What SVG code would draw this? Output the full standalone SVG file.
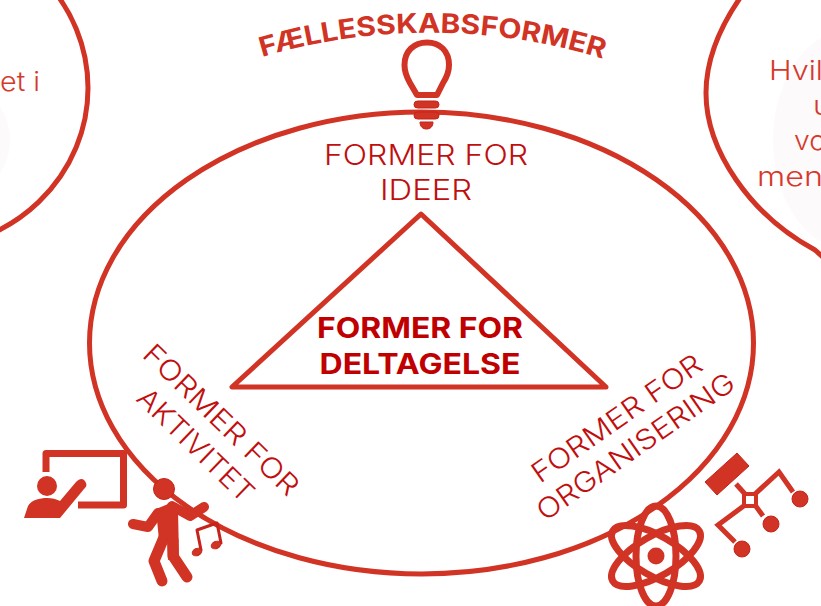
<svg xmlns="http://www.w3.org/2000/svg" width="821" height="606" viewBox="0 0 821 606">
<style>
.ln{fill:none;stroke:#d13324;stroke-width:5}
.ic{fill:#d13324;stroke:#c4241a;stroke-width:1}
.is{fill:none;stroke:#d13324;stroke-linecap:round;stroke-linejoin:round}
.t{font-family:Inter,"Noto Sans",Arial,sans-serif;font-size:28px;font-weight:300;fill:#bf0f0f}
.b{font-family:Inter,"Noto Sans",Arial,sans-serif;font-size:28px;font-weight:700;fill:#c00000}
.q{font-family:Inter,"Noto Sans",Arial,sans-serif;font-size:27px;font-weight:300;fill:#d5392c}
</style>
<defs><path id="arc" d="M262,57 A590,590 0 0 1 604,59"/></defs>
<rect width="821" height="606" fill="#fff"/>
<g id="bubble-left">
<ellipse cx="-40" cy="140" rx="50" ry="55" fill="#fdfafc"/>
<ellipse class="ln" cx="-80" cy="88" rx="168" ry="161"/>
<text class="q" x="0" y="91" textLength="40" lengthAdjust="spacingAndGlyphs">et i</text>
</g>
<g id="bubble-right">
<ellipse cx="850" cy="140" rx="77" ry="110" fill="#fdfafc"/>
<path class="ln" d="M740,-2 C718,30 706,60 706,93 C706,150 750,215 815,250 L825,259"/>
<text class="q" x="769" y="80" textLength="54" lengthAdjust="spacingAndGlyphs">Hvil</text>
<text class="q" x="813" y="115" textLength="18" lengthAdjust="spacingAndGlyphs">u</text>
<text class="q" x="794" y="150" textLength="32" lengthAdjust="spacingAndGlyphs">vo</text>
<text class="q" x="757" y="186" textLength="66" lengthAdjust="spacingAndGlyphs">men</text>
</g>
<g id="connectors">
<ellipse class="ln" cx="421.500" cy="343" rx="332" ry="231"/>
</g>
<g id="title">
<text class="b" style="fill:#d13324;font-weight:700;font-size:27px"><textPath href="#arc" textLength="346" lengthAdjust="spacingAndGlyphs">FÆLLESSKABSFORMER</textPath></text>
</g>
<g id="idea">
<path class="is" stroke-width="6" d="M417,95 L410,83 C406,76 404.500,72 404.500,65 C404.500,51 414,42.500 427,42.500 C440,42.500 449,51 449,65 C449,72 447.500,76 443,83 L437,95 Z"/>
<rect class="ic" x="414" y="101" width="25" height="7" rx="3.500"/>
<rect class="ic" x="414" y="112" width="25" height="7" rx="3.500"/>
<path class="ic" d="M420,122 H433 C433,127 430,129 426.500,129 C423,129 420,127 420,122 Z"/>
<text class="t" x="426" y="165" text-anchor="middle" textLength="204" lengthAdjust="spacingAndGlyphs">FORMER FOR</text>
<text class="t" x="426" y="200" text-anchor="middle" textLength="92" lengthAdjust="spacingAndGlyphs">IDEER</text>
</g>
<g id="participation">
<path class="ln" stroke-linejoin="round" d="M421,214 L232,387 H606 Z"/>
<text class="b" x="420" y="338" text-anchor="middle" textLength="206" lengthAdjust="spacingAndGlyphs">FORMER FOR</text>
<text class="b" x="420" y="374" text-anchor="middle" textLength="201" lengthAdjust="spacingAndGlyphs">DELTAGELSE</text>
</g>
<g id="activity">
<text class="t" transform="translate(141,356) rotate(44)" textLength="204" lengthAdjust="spacingAndGlyphs">FORMER FOR</text>
<text class="t" transform="translate(135,400) rotate(44)" textLength="150" lengthAdjust="spacingAndGlyphs">AKTIVITET</text>
<path class="is" stroke-width="7" d="M46,472 V453.500 H123.500 V505 H78" style="stroke-linecap:butt"/>
<circle cx="47" cy="486" r="10" fill="#d13324"/>
<path fill="#d13324" d="M24,518 L28,506 C31,500 40,498 47,498 C52,498 56,499 60,501 L76,482 C80,478 84,478 86,483 C87,486 86,487 84,489 L60,518 Z"/>
<circle class="ic" cx="164" cy="489" r="10.500"/>
<path fill="#d13324" d="M156,509 L173,502 L178,510 L179,557 L168,560 L167,540 L159,540 L157,520 Z"/>
<path class="is" stroke-width="10" d="M133,524 L148,527 L158,513"/>
<path class="is" stroke-width="10" d="M172,506 L190,516 L204,507"/>
<path class="is" stroke-width="11" d="M165,535 L154,561 L162,581"/>
<path class="is" stroke-width="11" d="M173,540 L173,556 L187,577"/>
<path class="is" stroke-width="3" style="stroke:#c4241a" d="M201,550 L197,530 L217,523 L221,543"/>
<ellipse class="ic" cx="197" cy="552" rx="5" ry="3.500" transform="rotate(-25 197 552)"/>
<ellipse class="ic" cx="216" cy="545" rx="5" ry="3.500" transform="rotate(-25 216 545)"/>
</g>
<g id="organising">
<text class="t" transform="translate(540,484) rotate(-35)" textLength="201" lengthAdjust="spacingAndGlyphs">FORMER FOR</text>
<text class="t" transform="translate(545,522) rotate(-35)" textLength="235" lengthAdjust="spacingAndGlyphs">ORGANISERING</text>
<g fill="none" stroke="#d13324" stroke-width="7">
<ellipse cx="656" cy="556" rx="20" ry="50"/>
<ellipse cx="656" cy="556" rx="20" ry="50" transform="rotate(60 656 556)"/>
<ellipse cx="656" cy="556" rx="20" ry="50" transform="rotate(-60 656 556)"/>
</g>
<circle cx="656" cy="556" r="8.500" fill="#d13324"/>
<path class="ic" d="M705,482 L737,453 L749,466 L717,495 Z"/>
<g fill="none" stroke="#d13324" stroke-width="5">
<path d="M736,484 L745,494 M755,494 L779,472 L793,492 M755,505 L763,516 M745,505 L718,525 L735,542"/>
<rect x="744" y="494" width="12" height="12" fill="#fff" stroke-width="4"/>
</g>
<circle class="ic" cx="800" cy="499" r="8"/>
<circle class="ic" cx="771" cy="524" r="8"/>
<circle class="ic" cx="742" cy="549" r="8"/>
</g>
</svg>
